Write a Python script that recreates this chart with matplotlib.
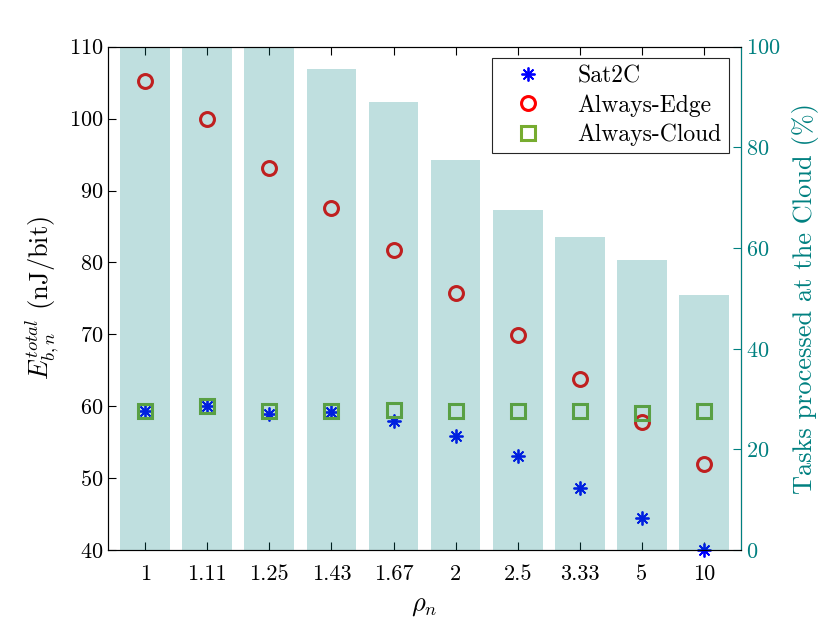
import matplotlib
matplotlib.use("Agg")
import matplotlib.pyplot as plt
import numpy as np

plt.rcParams['font.family'] = ['cmr10', 'DejaVu Serif']
plt.rcParams['mathtext.fontset'] = 'cm'
plt.rcParams['axes.formatter.use_mathtext'] = True

rho_labels = ["1", "1.11", "1.25", "1.43", "1.67", "2", "2.5", "3.33", "5", "10"]
sat2c = [59.3, 60.0, 58.9, 59.2, 58.0, 55.9, 53.1, 48.6, 44.5, 40.0]
always_edge = [105.3, 100.0, 93.2, 87.6, 81.7, 75.8, 69.9, 63.8, 57.8, 52.0]
always_cloud = [59.3, 60.0, 59.3, 59.4, 59.5, 59.4, 59.4, 59.4, 59.0, 59.4]
cloud_share = [100, 100, 100, 95.6, 89.1, 77.5, 67.6, 62.2, 57.7, 50.7]

teal = (0, 0.5, 0.5)
x = np.arange(1, len(rho_labels) + 1)

fig, ax = plt.subplots(figsize=(8.3, 6.23), dpi=100)
fig.subplots_adjust(left=0.130, right=0.893, top=0.925, bottom=0.117)

h1, = ax.plot(x, sat2c, linestyle='none', marker=(8, 2, 0), color='#0000ff',
              markersize=10, markeredgewidth=1.3, label='Sat2C', clip_on=False)
h2, = ax.plot(x, always_edge, linestyle='none', marker='o', markerfacecolor='none',
              markeredgecolor='#ff0000', markersize=10, markeredgewidth=2.2,
              label='Always-Edge', clip_on=False)
h3, = ax.plot(x, always_cloud, linestyle='none', marker='s', markerfacecolor='none',
              markeredgecolor='#77ac30', markersize=9.5, markeredgewidth=2.2,
              label='Always-Cloud', clip_on=False)

ax.set_xlim(0.4, 10.6)
ax.set_ylim(40, 110)
ax.set_xticks(x)
ax.set_xticklabels(rho_labels)
ax.set_yticks(np.arange(40, 111, 10))
ax.tick_params(axis='both', direction='in', labelsize=16, length=6, width=0.8)
ax.tick_params(axis='x', top=True, pad=10)
ax.set_xlabel(r'$\rho_n$', fontsize=19, labelpad=8)
ax.set_ylabel(r'$E_{b,n}^{total}$ (nJ/bit)', fontsize=19, labelpad=6)
for s in ['left', 'bottom', 'top']:
    ax.spines[s].set_color('#262626')

ax2 = ax.twinx()
ax2.bar(x, cloud_share, width=0.8, color=teal, alpha=0.25, edgecolor='none')
ax2.set_ylim(0, 100)
ax2.set_yticks(np.arange(0, 101, 20))
ax2.tick_params(axis='y', direction='in', labelsize=16, length=6, width=0.8,
                colors=teal)
ax2.spines['right'].set_color(teal)
ax2.set_ylabel('Tasks processed at the Cloud (%)', fontsize=19, color=teal,
               labelpad=8)

leg = ax2.legend(handles=[h1, h2, h3], loc='upper right', fontsize=17,
                 fancybox=False, framealpha=1, edgecolor='#262626',
                 bbox_to_anchor=(0.980, 0.978), borderaxespad=0,
                 handlelength=2.4, handletextpad=0.9, labelspacing=0.3,
                 borderpad=0.3)
leg.get_frame().set_linewidth(0.8)

fig.savefig("out.png", dpi=100)
